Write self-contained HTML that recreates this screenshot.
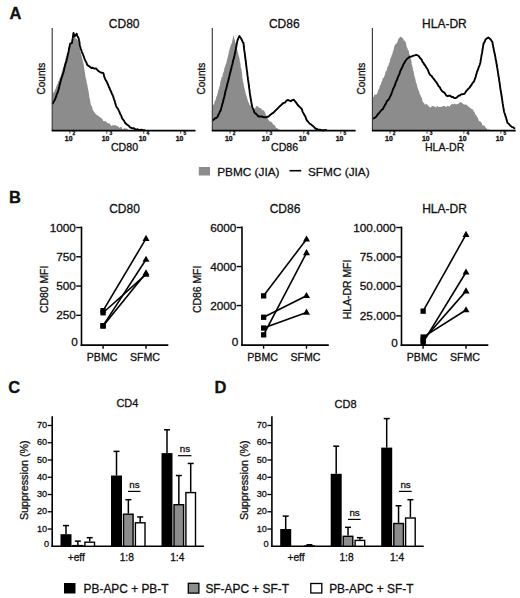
<!DOCTYPE html>
<html><head><meta charset="utf-8"><style>
html,body{margin:0;padding:0;background:#fff;}
svg{display:block;font-family:"Liberation Sans", sans-serif;}
text{stroke:#111;stroke-width:0.3px;}
</style></head><body>
<svg width="520" height="598" viewBox="0 0 520 598">
<rect width="520" height="598" fill="#fff"/>
<text x="9.6" y="18.8" font-size="16.5" text-anchor="start" font-weight="bold" fill="#111">A</text>
<text x="9.0" y="203" font-size="16.5" text-anchor="start" font-weight="bold" fill="#111">B</text>
<text x="8.2" y="393" font-size="16.5" text-anchor="start" font-weight="bold" fill="#111">C</text>
<text x="214.6" y="392.8" font-size="16.5" text-anchor="start" font-weight="bold" fill="#111">D</text>
<polygon points="52.2,130.7 52.5,94.9 53.1,93.4 53.7,91.9 54.3,91.9 54.9,89.5 55.5,89.4 55.9,88.0 56.3,86.3 56.7,86.2 57.1,84.2 57.6,84.0 58.0,82.2 58.4,81.2 58.8,81.0 59.2,80.8 59.5,78.3 59.9,77.5 60.2,77.4 60.5,77.1 60.9,75.3 61.2,73.9 61.6,74.1 61.9,71.1 62.2,71.9 62.6,69.6 62.9,68.3 63.2,67.2 63.5,66.5 63.8,66.6 64.1,64.1 64.4,63.9 64.7,63.0 65.0,61.4 65.3,60.7 65.6,58.5 65.9,57.5 66.2,56.7 66.5,56.7 66.8,55.1 67.1,53.8 67.4,53.4 67.7,52.1 68.1,50.7 68.4,50.7 68.7,49.5 69.0,47.5 69.3,47.2 70.0,45.9 70.7,45.6 71.3,44.1 72.0,42.0 72.5,42.5 73.0,39.5 73.4,39.0 73.9,38.7 74.4,36.2 75.6,38.3 76.7,38.7 78.5,41.9 78.7,43.1 78.9,43.7 79.1,45.4 79.3,45.2 79.5,47.0 79.7,47.8 79.9,48.8 80.1,49.6 80.3,51.4 80.6,52.7 80.8,52.7 81.1,54.1 81.3,53.8 81.6,56.2 81.8,57.1 82.1,58.8 82.3,59.5 82.6,59.3 82.8,60.5 83.1,62.2 83.3,61.7 83.4,63.7 83.6,64.1 83.8,65.0 83.9,65.8 84.1,68.4 84.2,68.0 84.4,69.2 84.6,70.6 84.7,72.6 84.9,71.9 85.1,73.7 85.3,75.0 85.5,76.8 85.7,77.7 85.9,78.9 86.1,78.6 86.3,80.0 86.5,80.9 86.7,83.1 86.9,84.3 87.1,83.6 87.3,84.7 87.5,85.9 87.7,86.9 87.9,88.5 88.1,89.8 88.3,90.1 88.5,90.6 88.7,92.6 88.9,93.5 89.1,95.0 89.2,96.9 89.4,97.4 89.6,98.0 89.8,99.3 90.0,100.5 90.2,100.2 90.4,103.1 90.7,103.8 91.0,105.1 91.3,105.9 91.6,106.1 92.0,107.1 92.3,107.5 92.6,109.7 92.9,109.4 93.2,110.4 94.1,111.9 95.1,113.0 96.0,114.5 96.9,115.0 97.9,115.5 99.0,116.4 100.0,116.9 101.1,118.3 102.1,118.4 103.2,121.0 104.3,121.3 105.4,121.0 106.4,122.1 107.5,123.1 108.6,123.5 109.6,123.3 110.7,125.2 111.8,125.9 112.9,125.1 113.9,125.5 115.0,125.0 116.1,125.4 117.2,126.3 118.3,126.5 119.3,128.1 120.4,126.9 121.5,127.0 122.6,129.4 123.6,128.7 124.7,128.0 125.8,129.1 126.8,128.2 127.9,129.5 128.9,130.7 129.9,130.6 130.9,130.5 132.0,129.7 133.0,130.5 133.0,130.7" fill="#8c8c8c"/>
<polyline points="52.5,104.0 53.5,102.1 54.6,100.1 55.1,99.4 55.5,97.9 56.0,96.9 56.5,95.2 56.9,93.8 57.4,93.1 57.8,92.0 58.3,90.7 58.6,89.3 59.0,88.1 59.3,86.7 59.6,84.9 60.0,83.9 60.3,82.5 60.7,80.9 61.0,79.6 61.4,78.6 61.7,77.3 62.1,76.5 62.5,75.4 62.9,73.6 63.2,72.9 63.6,71.6 64.0,70.3 64.3,68.4 64.7,67.0 65.0,65.8 65.3,64.6 65.6,63.3 65.9,62.5 66.3,61.6 66.6,60.3 66.9,58.7 67.2,57.7 67.5,56.6 67.8,54.6 68.0,53.9 68.3,52.8 68.6,51.4 68.8,50.1 69.1,48.5 69.4,46.9 69.7,46.3 69.9,44.5 70.2,43.7 72.0,43.0 72.2,41.1 72.4,39.8 72.6,39.0 72.9,37.5 73.1,35.6 73.3,34.2 73.5,33.0 74.2,35.1 74.8,36.3 76.7,33.8 77.3,35.8 77.9,37.1 78.5,38.1 78.8,39.1 79.0,40.5 79.3,41.4 79.5,42.6 79.8,44.9 80.0,45.8 80.3,47.0 80.8,48.8 81.2,49.7 81.7,51.6 82.2,52.9 82.7,53.5 83.1,54.8 83.6,56.0 84.0,57.2 84.5,58.8 84.9,59.7 85.6,61.2 86.3,62.3 87.0,64.4 87.7,65.3 88.9,66.1 90.2,67.0 91.4,68.0 92.9,67.8 94.5,68.6 96.0,68.5 97.3,69.9 98.7,71.2 100.0,72.0 101.6,72.8 103.2,72.9 103.7,74.1 104.1,76.3 104.5,77.1 105.0,78.8 106.0,80.6 106.9,82.1 107.4,83.1 107.9,84.5 108.5,85.8 109.0,87.3 109.5,87.9 110.0,89.6 110.6,90.6 111.3,92.0 111.9,93.9 112.6,95.0 113.2,96.5 113.6,97.9 114.0,99.3 114.4,100.1 114.8,101.5 115.1,102.7 115.5,103.9 115.9,105.3 116.3,106.4 117.1,107.7 118.0,108.9 118.8,110.6 119.3,111.6 119.9,113.1 120.4,114.4 120.9,115.0 121.5,116.5 122.0,118.1 122.7,119.3 123.5,119.9 124.2,121.1 125.0,122.7 125.7,123.6 127.2,124.8 128.6,125.6 130.1,127.3 131.4,127.8 132.6,128.4 133.9,128.1 135.1,129.2 136.4,129.6 137.7,129.2 138.9,130.0 140.2,130.2 141.4,129.6 142.7,130.2 143.9,130.1 145.2,130.3" fill="none" stroke="#000" stroke-width="1.9" stroke-linejoin="round"/>
<line x1="52.2" y1="28" x2="52.2" y2="130.7" stroke="#333" stroke-width="1.1"/>
<line x1="51.7" y1="130.7" x2="195.5" y2="130.7" stroke="#000" stroke-width="1.8"/>
<line x1="69.9" y1="130.7" x2="69.9" y2="133.7" stroke="#222" stroke-width="0.8"/>
<text x="68.7" y="140.9" font-size="6.9" text-anchor="middle" font-weight="bold" fill="#111">10</text>
<text x="72.60000000000001" y="135.4" font-size="4.8" text-anchor="start" font-weight="bold" fill="#111">2</text>
<line x1="106.80000000000001" y1="130.7" x2="106.80000000000001" y2="133.7" stroke="#222" stroke-width="0.8"/>
<text x="105.60000000000001" y="140.9" font-size="6.9" text-anchor="middle" font-weight="bold" fill="#111">10</text>
<text x="109.50000000000001" y="135.4" font-size="4.8" text-anchor="start" font-weight="bold" fill="#111">3</text>
<line x1="143.7" y1="130.7" x2="143.7" y2="133.7" stroke="#222" stroke-width="0.8"/>
<text x="142.5" y="140.9" font-size="6.9" text-anchor="middle" font-weight="bold" fill="#111">10</text>
<text x="146.39999999999998" y="135.4" font-size="4.8" text-anchor="start" font-weight="bold" fill="#111">4</text>
<line x1="180.7" y1="130.7" x2="180.7" y2="133.7" stroke="#222" stroke-width="0.8"/>
<text x="179.5" y="140.9" font-size="6.9" text-anchor="middle" font-weight="bold" fill="#111">10</text>
<text x="183.39999999999998" y="135.4" font-size="4.8" text-anchor="start" font-weight="bold" fill="#111">5</text>
<text x="124.2" y="27.5" font-size="12" text-anchor="middle" fill="#111">CD80</text>
<text x="124.5" y="151.2" font-size="10.6" text-anchor="middle" fill="#111">CD80</text>
<text x="44.6" y="78.6" font-size="10" text-anchor="middle" transform="rotate(-90 44.6 78.6)" fill="#111">Counts</text>
<polygon points="212.3,130.7 212.5,105.9 213.1,104.8 213.7,104.8 214.3,103.3 214.9,100.8 215.5,100.2 215.8,99.4 216.1,98.0 216.4,96.7 216.7,95.9 217.1,95.8 217.4,93.2 217.7,93.4 218.0,92.1 218.3,90.1 218.5,89.8 218.8,89.5 219.0,88.2 219.3,86.2 219.5,87.2 219.8,85.8 220.0,85.2 220.3,82.3 220.5,81.6 220.8,80.1 221.0,80.7 221.3,78.6 221.6,77.3 221.9,76.9 222.2,77.0 222.6,75.7 222.9,73.5 223.2,72.3 223.5,72.9 223.8,71.2 224.1,70.4 224.4,68.1 224.7,67.0 225.0,67.3 225.3,65.7 225.6,63.9 225.9,64.8 226.2,63.1 226.5,62.5 226.8,59.9 227.0,60.6 227.3,57.8 227.5,58.6 227.8,56.7 228.0,55.4 228.3,54.9 228.5,54.7 228.8,52.2 229.0,50.9 229.3,50.8 229.6,49.1 230.0,47.8 230.3,46.8 230.7,45.5 231.0,44.8 231.4,44.0 231.7,43.0 232.0,42.9 232.2,40.8 232.5,40.2 232.7,38.5 233.0,37.8 233.2,36.0 233.5,35.5 233.8,36.0 234.1,38.6 234.4,39.3 234.8,39.5 235.1,41.2 235.4,43.3 235.7,42.5 236.0,45.1 236.2,45.3 236.5,46.4 236.7,48.1 237.0,48.2 237.2,49.4 237.5,50.8 237.7,52.5 238.0,52.1 238.2,54.1 238.5,54.9 238.7,55.7 238.9,56.3 239.1,57.2 239.3,57.6 239.5,58.8 239.7,59.8 239.9,62.3 240.1,62.3 240.3,63.1 240.5,64.0 240.7,66.7 240.9,67.8 241.1,68.4 241.3,68.6 241.5,69.6 241.6,70.8 241.8,72.2 241.9,72.6 242.1,74.4 242.2,75.0 242.3,77.6 242.5,78.7 242.7,78.9 242.8,79.3 242.9,81.9 243.1,81.6 243.3,82.8 243.6,83.1 243.8,85.0 244.0,86.2 244.2,87.4 244.4,87.8 244.7,89.5 244.9,89.5 245.1,91.2 245.4,91.8 245.6,93.6 245.8,93.9 246.2,94.9 246.6,96.6 247.0,97.4 247.4,99.3 247.8,100.2 248.2,101.7 248.6,102.5 249.2,103.8 249.7,105.2 250.3,105.3 250.8,106.2 251.4,108.8 252.8,107.4 254.1,109.1 255.3,108.0 256.6,105.8 257.8,106.6 259.0,107.7 260.3,108.0 261.5,109.1 262.7,110.5 263.8,110.3 265.0,112.4 265.5,113.4 266.1,115.2 266.6,116.2 267.1,117.3 267.6,117.8 268.1,119.5 268.7,120.1 269.2,121.2 270.4,121.4 271.5,122.1 272.6,123.4 273.8,125.1 275.0,125.4 276.1,127.9 277.3,128.2 278.5,129.2 279.7,129.7 280.8,130.4 282.0,130.5 282.0,130.7" fill="#8c8c8c"/>
<polyline points="212.5,120.6 213.7,119.7 214.9,118.3 216.2,118.1 217.4,117.1 218.0,115.7 218.6,114.5 219.2,113.4 219.8,111.6 220.4,111.1 221.0,109.4 221.3,107.9 221.6,106.9 221.9,106.2 222.2,104.4 222.5,103.7 222.8,102.7 223.2,101.0 223.5,99.7 223.8,98.6 224.1,97.5 224.4,96.4 224.7,95.0 225.0,93.8 225.3,92.0 225.6,90.8 225.9,89.7 226.2,89.0 226.6,87.3 226.9,86.3 227.2,84.5 227.5,83.4 227.8,82.3 228.1,81.5 228.4,80.3 228.7,79.1 229.0,77.4 229.3,76.4 229.6,75.2 229.9,73.9 230.2,72.4 230.5,71.9 230.8,70.0 231.1,69.6 231.4,68.3 231.7,66.1 232.0,65.4 232.3,64.5 232.6,63.4 232.9,61.7 233.2,60.3 233.6,59.0 233.9,58.5 234.2,56.6 234.5,55.7 234.8,54.0 235.0,53.1 235.3,52.3 235.5,50.2 235.8,49.6 236.0,48.0 236.2,47.0 236.5,45.6 236.7,43.8 237.0,43.2 237.2,41.5 237.8,39.6 238.3,38.3 238.8,37.4 239.4,36.0 240.1,37.0 240.9,38.1 241.6,39.5 242.2,40.7 242.9,42.5 243.5,42.9 243.7,44.9 243.8,46.2 243.9,46.7 244.1,48.7 244.2,49.7 244.4,51.2 244.6,51.8 244.7,53.1 244.9,54.3 245.0,56.1 245.2,57.0 245.3,58.0 245.5,59.3 245.6,60.3 245.8,61.3 245.9,62.6 246.1,64.6 246.3,65.2 246.4,67.1 246.6,67.7 246.7,68.9 246.9,70.4 247.1,71.3 247.2,72.7 247.4,74.5 247.5,75.7 247.7,76.8 247.9,77.9 248.0,79.4 248.2,80.6 248.3,81.5 248.5,82.9 248.7,83.4 248.8,85.3 249.0,86.3 249.1,87.8 249.3,88.9 249.5,89.8 249.6,90.8 249.8,92.9 249.9,93.3 250.1,94.9 250.3,96.0 250.5,97.3 250.8,99.0 251.0,100.5 251.2,101.1 251.4,102.7 251.6,103.7 251.9,105.2 252.1,106.3 252.3,107.4 253.0,108.7 253.7,110.2 254.3,112.2 255.0,113.2 256.2,113.9 257.5,115.5 258.7,116.5 260.2,116.4 261.6,116.5 263.1,117.0 264.6,117.3 265.9,117.3 267.2,116.8 268.5,116.6 270.0,115.1 271.5,113.9 272.8,113.2 274.1,112.0 275.4,110.7 276.7,109.4 277.9,108.2 279.2,106.8 280.7,105.5 282.3,103.9 283.8,102.9 285.1,102.5 286.4,100.7 287.7,100.0 289.2,100.5 290.8,101.2 292.3,100.1 293.8,99.8 294.8,101.0 295.9,102.4 296.9,103.7 298.2,105.6 299.5,106.7 300.8,108.1 301.4,108.4 302.0,109.7 302.6,111.6 303.2,113.0 303.8,113.8 304.4,115.1 305.0,115.8 305.7,117.4 306.3,119.2 306.9,120.3 308.2,121.9 309.5,123.5 310.8,124.3 312.3,125.5 313.9,126.9 315.4,128.5 316.6,129.0 317.8,129.5 319.1,129.6 320.3,129.8 321.5,130.2 322.9,130.1 324.2,130.2 325.5,129.9 326.9,130.5" fill="none" stroke="#000" stroke-width="1.9" stroke-linejoin="round"/>
<line x1="212.3" y1="28" x2="212.3" y2="130.7" stroke="#333" stroke-width="1.1"/>
<line x1="211.8" y1="130.7" x2="355.6" y2="130.7" stroke="#000" stroke-width="1.8"/>
<line x1="230.0" y1="130.7" x2="230.0" y2="133.7" stroke="#222" stroke-width="0.8"/>
<text x="228.8" y="140.9" font-size="6.9" text-anchor="middle" font-weight="bold" fill="#111">10</text>
<text x="232.7" y="135.4" font-size="4.8" text-anchor="start" font-weight="bold" fill="#111">2</text>
<line x1="266.90000000000003" y1="130.7" x2="266.90000000000003" y2="133.7" stroke="#222" stroke-width="0.8"/>
<text x="265.70000000000005" y="140.9" font-size="6.9" text-anchor="middle" font-weight="bold" fill="#111">10</text>
<text x="269.6" y="135.4" font-size="4.8" text-anchor="start" font-weight="bold" fill="#111">3</text>
<line x1="303.8" y1="130.7" x2="303.8" y2="133.7" stroke="#222" stroke-width="0.8"/>
<text x="302.6" y="140.9" font-size="6.9" text-anchor="middle" font-weight="bold" fill="#111">10</text>
<text x="306.5" y="135.4" font-size="4.8" text-anchor="start" font-weight="bold" fill="#111">4</text>
<line x1="340.8" y1="130.7" x2="340.8" y2="133.7" stroke="#222" stroke-width="0.8"/>
<text x="339.6" y="140.9" font-size="6.9" text-anchor="middle" font-weight="bold" fill="#111">10</text>
<text x="343.5" y="135.4" font-size="4.8" text-anchor="start" font-weight="bold" fill="#111">5</text>
<text x="284.3" y="27.5" font-size="12" text-anchor="middle" fill="#111">CD86</text>
<text x="284.6" y="151.2" font-size="10.6" text-anchor="middle" fill="#111">CD86</text>
<text x="204.70000000000002" y="78.6" font-size="10" text-anchor="middle" transform="rotate(-90 204.70000000000002 78.6)" fill="#111">Counts</text>
<polygon points="372.4,130.7 372.5,97.6 373.6,96.9 374.6,94.3 376.0,94.9 377.4,93.3 377.8,91.5 378.2,90.1 378.6,89.4 379.0,89.2 379.4,88.3 379.8,86.0 380.2,84.9 380.6,84.9 381.0,84.0 381.4,82.5 381.8,81.1 382.2,81.0 382.6,78.6 383.1,78.3 383.5,77.6 383.9,77.7 384.3,75.9 384.7,75.4 385.1,73.5 385.5,72.0 385.9,71.0 386.3,71.5 386.8,69.9 387.2,68.0 387.6,66.4 388.0,66.4 388.4,65.8 388.7,64.2 389.1,62.9 389.4,62.8 389.7,62.3 390.1,59.8 390.4,58.4 390.8,58.0 391.1,57.2 391.4,56.8 391.8,54.7 392.1,55.1 392.4,53.9 392.7,52.4 393.0,50.7 393.3,51.3 393.6,48.9 393.9,49.0 394.2,46.7 394.5,45.6 394.8,45.8 395.7,43.5 396.7,43.7 397.6,41.5 398.0,39.8 398.5,38.9 398.9,38.3 399.4,37.8 399.8,37.4 400.9,36.4 402.0,37.8 403.1,38.2 403.8,41.0 404.5,40.3 405.1,41.3 405.8,42.4 406.2,44.2 406.6,46.4 407.0,47.4 407.4,48.1 407.8,49.7 408.2,50.6 408.6,50.3 408.9,51.0 409.1,53.7 409.4,54.3 409.6,53.7 409.9,56.1 410.1,56.5 410.4,57.5 410.6,58.4 410.9,59.1 411.1,59.7 411.4,61.3 411.6,62.5 411.8,64.9 412.1,64.2 412.3,67.1 412.5,66.5 412.8,67.9 413.0,70.0 413.2,71.0 413.4,71.3 413.7,71.5 413.9,73.5 414.1,74.3 414.4,76.5 414.6,75.9 414.9,77.3 415.1,79.5 415.4,78.6 415.6,80.5 415.9,82.3 416.1,83.3 416.4,82.7 416.6,83.7 416.9,84.7 417.3,87.7 417.7,87.3 418.1,89.4 418.4,90.7 418.8,90.6 419.2,91.5 419.6,94.0 420.0,94.3 420.4,94.6 420.8,96.6 421.2,96.8 421.6,97.8 422.0,98.3 422.4,101.0 423.3,102.5 424.1,103.1 425.0,105.0 426.2,103.7 427.3,104.8 428.5,106.0 429.6,107.2 430.8,107.4 431.9,106.3 433.1,106.1 434.2,106.6 435.2,106.7 436.2,107.5 437.2,105.8 438.3,107.1 439.3,106.8 440.3,106.9 441.3,106.7 442.3,106.4 443.3,105.9 444.3,106.0 445.4,106.2 446.4,107.2 447.4,105.8 448.4,106.1 449.5,106.8 450.5,105.2 451.6,104.3 452.7,103.7 453.8,104.4 455.0,103.5 456.1,104.5 457.3,103.9 458.4,103.7 459.5,102.4 460.6,102.2 461.8,102.6 462.9,103.7 464.0,104.5 465.1,104.4 466.1,104.5 467.2,105.4 468.3,106.4 469.4,107.2 470.5,108.1 471.5,109.0 472.6,109.4 473.1,109.2 473.7,111.7 474.2,111.5 474.8,113.1 475.3,113.7 475.8,115.5 476.4,115.3 476.9,116.4 477.5,117.4 478.0,118.2 478.9,120.9 479.8,121.3 480.8,121.8 481.7,123.0 482.6,125.4 483.5,125.4 484.6,125.7 485.7,127.8 486.8,128.4 487.9,130.0 489.0,128.9 490.0,130.1 491.0,130.5 491.0,130.7" fill="#8c8c8c"/>
<polyline points="372.5,118.8 374.0,118.2 375.5,117.2 376.7,116.1 378.0,114.0 379.2,113.0 380.4,111.3 381.7,109.8 382.9,109.1 383.6,107.4 384.3,106.5 385.1,104.6 385.8,103.8 386.5,102.1 387.4,100.6 388.4,99.7 389.3,98.5 390.2,96.3 390.7,95.5 391.3,94.2 391.8,92.5 392.3,91.3 392.8,89.8 393.4,88.5 393.9,87.3 394.4,86.3 395.0,85.0 395.5,83.3 396.0,81.8 396.5,80.8 397.1,79.8 397.6,78.0 398.1,76.8 398.7,75.4 399.2,74.7 399.7,73.1 400.2,71.3 400.8,70.0 401.3,69.0 401.9,67.9 402.5,66.8 403.1,65.0 403.7,63.9 404.3,63.2 404.9,61.7 406.1,60.0 407.4,58.5 408.6,57.7 409.8,56.7 411.1,56.7 412.3,56.2 413.5,55.6 414.8,55.4 416.0,54.9 417.4,55.2 418.7,56.0 420.0,58.0 420.9,58.8 421.7,59.9 422.6,62.0 423.4,62.8 424.3,64.5 425.2,65.5 426.2,67.4 427.1,68.5 427.6,69.4 428.1,70.5 428.7,72.2 429.2,73.5 430.4,75.2 431.6,75.9 432.8,77.8 433.9,79.0 434.9,80.6 435.9,81.6 437.0,83.2 437.9,84.7 438.7,86.4 439.6,86.8 440.4,88.5 441.3,90.1 442.6,91.6 443.8,92.2 445.1,93.5 446.3,95.6 447.7,96.0 449.1,95.8 450.5,95.8 451.8,97.1 453.0,97.0 454.2,98.0 455.5,98.1 456.9,97.4 458.4,95.8 459.8,95.5 461.0,94.4 462.2,94.2 463.5,94.1 464.7,93.6 465.9,91.5 467.1,90.2 468.3,88.9 469.5,87.6 470.6,86.1 471.8,84.4 472.6,83.1 473.4,82.2 474.2,80.9 475.0,78.6 475.4,77.7 475.8,76.5 476.2,74.4 476.6,73.8 477.0,71.6 477.5,70.9 477.9,69.6 478.4,68.5 478.8,66.9 479.3,65.8 479.7,64.8 480.2,63.4 480.4,62.4 480.6,61.0 480.8,59.8 481.0,58.1 481.2,57.5 481.4,56.2 481.6,54.7 481.9,54.0 482.1,52.8 482.3,51.3 482.5,49.8 482.7,48.8 482.9,47.3 483.1,46.1 483.3,45.1 483.5,43.6 484.1,42.7 484.8,41.5 485.4,39.8 486.0,39.1 488.3,37.4 490.5,39.2 491.4,40.6 492.2,41.7 492.5,42.5 492.7,44.3 493.0,45.4 493.3,47.3 493.5,47.7 493.8,49.7 494.1,51.1 494.3,52.1 494.6,53.5 494.9,54.1 495.1,56.2 495.4,57.0 495.6,58.8 495.8,60.0 496.1,60.6 496.3,62.5 496.5,63.9 496.7,64.4 496.9,66.0 497.2,67.7 497.4,68.4 497.6,70.4 497.8,71.0 498.0,72.7 498.2,73.3 498.3,74.8 498.5,76.4 498.7,76.9 498.9,78.2 499.1,79.7 499.2,80.7 499.4,81.6 499.6,82.9 499.8,84.1 500.0,86.1 500.2,87.1 500.3,88.5 500.5,89.0 500.7,90.8 500.9,91.3 501.1,93.0 501.3,94.3 501.5,95.2 501.7,97.0 501.9,97.9 502.1,99.1 502.3,100.7 502.4,101.1 502.6,103.2 502.8,104.1 503.0,105.1 503.2,106.7 503.4,107.4 503.6,109.3 503.8,110.2 504.0,111.2 504.4,112.8 504.8,113.7 505.1,114.6 505.5,116.4 505.9,116.9 506.3,118.9 506.6,119.5 507.0,121.1 507.4,122.7 508.8,123.9 510.3,125.6 511.7,126.8 513.4,127.4 515.0,128.7" fill="none" stroke="#000" stroke-width="1.9" stroke-linejoin="round"/>
<line x1="372.4" y1="28" x2="372.4" y2="130.7" stroke="#333" stroke-width="1.1"/>
<line x1="371.9" y1="130.7" x2="515.7" y2="130.7" stroke="#000" stroke-width="1.8"/>
<line x1="390.09999999999997" y1="130.7" x2="390.09999999999997" y2="133.7" stroke="#222" stroke-width="0.8"/>
<text x="388.9" y="140.9" font-size="6.9" text-anchor="middle" font-weight="bold" fill="#111">10</text>
<text x="392.79999999999995" y="135.4" font-size="4.8" text-anchor="start" font-weight="bold" fill="#111">2</text>
<line x1="427.0" y1="130.7" x2="427.0" y2="133.7" stroke="#222" stroke-width="0.8"/>
<text x="425.8" y="140.9" font-size="6.9" text-anchor="middle" font-weight="bold" fill="#111">10</text>
<text x="429.7" y="135.4" font-size="4.8" text-anchor="start" font-weight="bold" fill="#111">3</text>
<line x1="463.9" y1="130.7" x2="463.9" y2="133.7" stroke="#222" stroke-width="0.8"/>
<text x="462.7" y="140.9" font-size="6.9" text-anchor="middle" font-weight="bold" fill="#111">10</text>
<text x="466.59999999999997" y="135.4" font-size="4.8" text-anchor="start" font-weight="bold" fill="#111">4</text>
<line x1="500.9" y1="130.7" x2="500.9" y2="133.7" stroke="#222" stroke-width="0.8"/>
<text x="499.7" y="140.9" font-size="6.9" text-anchor="middle" font-weight="bold" fill="#111">10</text>
<text x="503.59999999999997" y="135.4" font-size="4.8" text-anchor="start" font-weight="bold" fill="#111">5</text>
<text x="444.4" y="27.5" font-size="12" text-anchor="middle" fill="#111">HLA-DR</text>
<text x="444.7" y="151.2" font-size="10.6" text-anchor="middle" fill="#111">HLA-DR</text>
<text x="364.79999999999995" y="78.6" font-size="10" text-anchor="middle" transform="rotate(-90 364.79999999999995 78.6)" fill="#111">Counts</text>
<rect x="198.8" y="167" width="11.2" height="8.5" fill="#8c8c8c"/>
<text x="217.2" y="175.5" font-size="11.8" text-anchor="start" fill="#111">PBMC (JIA)</text>
<line x1="289.5" y1="170.7" x2="301.2" y2="170.7" stroke="#000" stroke-width="1.6"/>
<text x="308" y="175.5" font-size="11.8" text-anchor="start" fill="#111">SFMC (JIA)</text>
<line x1="81.5" y1="226.5" x2="81.5" y2="345.90000000000003" stroke="#000" stroke-width="1.6"/>
<line x1="80.7" y1="345.1" x2="168.3" y2="345.1" stroke="#000" stroke-width="1.6"/>
<text x="77.9" y="346.1" font-size="11.8" text-anchor="end" fill="#111">0</text>
<line x1="76.2" y1="315.32500000000005" x2="81.5" y2="315.32500000000005" stroke="#000" stroke-width="1.4"/>
<text x="75.9" y="319.32500000000005" font-size="11.8" text-anchor="end" fill="#111">250</text>
<line x1="76.2" y1="286.05" x2="81.5" y2="286.05" stroke="#000" stroke-width="1.4"/>
<text x="75.9" y="290.05" font-size="11.8" text-anchor="end" fill="#111">500</text>
<line x1="76.2" y1="256.775" x2="81.5" y2="256.775" stroke="#000" stroke-width="1.4"/>
<text x="75.9" y="260.775" font-size="11.8" text-anchor="end" fill="#111">750</text>
<line x1="76.2" y1="227.5" x2="81.5" y2="227.5" stroke="#000" stroke-width="1.4"/>
<text x="75.9" y="231.5" font-size="11.8" text-anchor="end" fill="#111">1000</text>
<line x1="103.1" y1="345.1" x2="103.1" y2="348.70000000000005" stroke="#000" stroke-width="1.4"/>
<text x="102.1" y="360.6" font-size="10.6" text-anchor="middle" fill="#111">PBMC</text>
<line x1="146.0" y1="345.1" x2="146.0" y2="348.70000000000005" stroke="#000" stroke-width="1.4"/>
<text x="145.0" y="360.6" font-size="10.6" text-anchor="middle" fill="#111">SFMC</text>
<text x="124.5" y="212.7" font-size="12" text-anchor="middle" fill="#111">CD80</text>
<text x="48.5" y="289.4" font-size="10.4" text-anchor="middle" transform="rotate(-90 48.5 289.4)" fill="#111">CD80 MFI</text>
<line x1="103.1" y1="310.641" x2="146.0" y2="238.6245" stroke="#000" stroke-width="1.6"/>
<line x1="103.1" y1="312.7488" x2="146.0" y2="274.34000000000003" stroke="#000" stroke-width="1.6"/>
<line x1="103.1" y1="325.62980000000005" x2="146.0" y2="259.4683" stroke="#000" stroke-width="1.6"/>
<line x1="103.1" y1="326.0982" x2="146.0" y2="272.9348" stroke="#000" stroke-width="1.6"/>
<rect x="100.4" y="308.0" width="5.3" height="5.3" fill="#000"/>
<polygon points="146.0,234.8 142.5,240.9 149.5,240.9" fill="#000"/>
<rect x="100.4" y="310.1" width="5.3" height="5.3" fill="#000"/>
<polygon points="146.0,270.6 142.5,276.7 149.5,276.7" fill="#000"/>
<rect x="100.4" y="323.0" width="5.3" height="5.3" fill="#000"/>
<polygon points="146.0,255.7 142.5,261.8 149.5,261.8" fill="#000"/>
<rect x="100.4" y="323.4" width="5.3" height="5.3" fill="#000"/>
<polygon points="146.0,269.2 142.5,275.2 149.5,275.2" fill="#000"/>
<line x1="242" y1="226.5" x2="242" y2="345.90000000000003" stroke="#000" stroke-width="1.6"/>
<line x1="241.2" y1="345.1" x2="328.8" y2="345.1" stroke="#000" stroke-width="1.6"/>
<text x="238.4" y="346.1" font-size="11.8" text-anchor="end" fill="#111">0</text>
<line x1="236.7" y1="305.56666666666666" x2="242" y2="305.56666666666666" stroke="#000" stroke-width="1.4"/>
<text x="236.4" y="309.56666666666666" font-size="11.8" text-anchor="end" fill="#111">2000</text>
<line x1="236.7" y1="266.5333333333333" x2="242" y2="266.5333333333333" stroke="#000" stroke-width="1.4"/>
<text x="236.4" y="270.5333333333333" font-size="11.8" text-anchor="end" fill="#111">4000</text>
<line x1="236.7" y1="227.5" x2="242" y2="227.5" stroke="#000" stroke-width="1.4"/>
<text x="236.4" y="231.5" font-size="11.8" text-anchor="end" fill="#111">6000</text>
<line x1="263.6" y1="345.1" x2="263.6" y2="348.70000000000005" stroke="#000" stroke-width="1.4"/>
<text x="262.6" y="360.6" font-size="10.6" text-anchor="middle" fill="#111">PBMC</text>
<line x1="306.5" y1="345.1" x2="306.5" y2="348.70000000000005" stroke="#000" stroke-width="1.4"/>
<text x="305.5" y="360.6" font-size="10.6" text-anchor="middle" fill="#111">SFMC</text>
<text x="285" y="212.7" font-size="12" text-anchor="middle" fill="#111">CD86</text>
<text x="200.8" y="289.4" font-size="10.4" text-anchor="middle" transform="rotate(-90 200.8 289.4)" fill="#111">CD86 MFI</text>
<line x1="263.6" y1="295.80833333333334" x2="306.5" y2="239.20999999999998" stroke="#000" stroke-width="1.6"/>
<line x1="263.6" y1="334.8416666666667" x2="306.5" y2="252.87166666666667" stroke="#000" stroke-width="1.6"/>
<line x1="263.6" y1="317.2766666666667" x2="306.5" y2="295.80833333333334" stroke="#000" stroke-width="1.6"/>
<line x1="263.6" y1="328.0108333333334" x2="306.5" y2="312.39750000000004" stroke="#000" stroke-width="1.6"/>
<rect x="261.0" y="293.2" width="5.3" height="5.3" fill="#000"/>
<polygon points="306.5,235.4 303.0,241.5 310.0,241.5" fill="#000"/>
<rect x="261.0" y="332.2" width="5.3" height="5.3" fill="#000"/>
<polygon points="306.5,249.1 303.0,255.2 310.0,255.2" fill="#000"/>
<rect x="261.0" y="314.6" width="5.3" height="5.3" fill="#000"/>
<polygon points="306.5,292.0 303.0,298.1 310.0,298.1" fill="#000"/>
<rect x="261.0" y="325.4" width="5.3" height="5.3" fill="#000"/>
<polygon points="306.5,308.6 303.0,314.7 310.0,314.7" fill="#000"/>
<line x1="401.5" y1="226.5" x2="401.5" y2="345.90000000000003" stroke="#000" stroke-width="1.6"/>
<line x1="400.7" y1="345.1" x2="488.3" y2="345.1" stroke="#000" stroke-width="1.6"/>
<text x="397.9" y="346.8" font-size="11.8" text-anchor="end" fill="#111">0</text>
<line x1="396.2" y1="315.85" x2="401.5" y2="315.85" stroke="#000" stroke-width="1.4"/>
<text x="395.9" y="319.85" font-size="11.8" text-anchor="end" fill="#111">25.000</text>
<line x1="396.2" y1="286.40000000000003" x2="401.5" y2="286.40000000000003" stroke="#000" stroke-width="1.4"/>
<text x="395.9" y="290.40000000000003" font-size="11.8" text-anchor="end" fill="#111">50.000</text>
<line x1="396.2" y1="256.95000000000005" x2="401.5" y2="256.95000000000005" stroke="#000" stroke-width="1.4"/>
<text x="395.9" y="260.95000000000005" font-size="11.8" text-anchor="end" fill="#111">75.000</text>
<line x1="396.2" y1="227.5" x2="401.5" y2="227.5" stroke="#000" stroke-width="1.4"/>
<text x="395.9" y="231.5" font-size="11.8" text-anchor="end" fill="#111">100.000</text>
<line x1="423.1" y1="345.1" x2="423.1" y2="348.70000000000005" stroke="#000" stroke-width="1.4"/>
<text x="422.1" y="360.6" font-size="10.6" text-anchor="middle" fill="#111">PBMC</text>
<line x1="466.0" y1="345.1" x2="466.0" y2="348.70000000000005" stroke="#000" stroke-width="1.4"/>
<text x="465.0" y="360.6" font-size="10.6" text-anchor="middle" fill="#111">SFMC</text>
<text x="444.5" y="212.7" font-size="12" text-anchor="middle" fill="#111">HLA-DR</text>
<text x="351.1" y="289.4" font-size="10.4" text-anchor="middle" transform="rotate(-90 351.1 289.4)" fill="#111">HLA-DR MFI</text>
<line x1="423.1" y1="311.13800000000003" x2="466.0" y2="234.568" stroke="#000" stroke-width="1.6"/>
<line x1="423.1" y1="342.355" x2="466.0" y2="272.264" stroke="#000" stroke-width="1.6"/>
<line x1="423.1" y1="339.999" x2="466.0" y2="291.112" stroke="#000" stroke-width="1.6"/>
<line x1="423.1" y1="337.05400000000003" x2="466.0" y2="309.96000000000004" stroke="#000" stroke-width="1.6"/>
<rect x="420.5" y="308.5" width="5.3" height="5.3" fill="#000"/>
<polygon points="466.0,230.8 462.5,236.9 469.5,236.9" fill="#000"/>
<rect x="420.5" y="339.7" width="5.3" height="5.3" fill="#000"/>
<polygon points="466.0,268.5 462.5,274.6 469.5,274.6" fill="#000"/>
<rect x="420.5" y="337.3" width="5.3" height="5.3" fill="#000"/>
<polygon points="466.0,287.3 462.5,293.4 469.5,293.4" fill="#000"/>
<rect x="420.5" y="334.4" width="5.3" height="5.3" fill="#000"/>
<polygon points="466.0,306.2 462.5,312.3 469.5,312.3" fill="#000"/>
<line x1="52.2" y1="416.2" x2="52.2" y2="547.0999999999999" stroke="#000" stroke-width="1.6"/>
<line x1="51.400000000000006" y1="546.3" x2="204.0" y2="546.3" stroke="#000" stroke-width="1.6"/>
<text x="49.0" y="546.5" font-size="9.2" text-anchor="end" fill="#111">0</text>
<line x1="47.7" y1="529.04" x2="52.2" y2="529.04" stroke="#000" stroke-width="1.3"/>
<text x="47.2" y="531.54" font-size="9.1" text-anchor="end" fill="#111">10</text>
<line x1="47.7" y1="511.78" x2="52.2" y2="511.78" stroke="#000" stroke-width="1.3"/>
<text x="47.2" y="514.28" font-size="9.1" text-anchor="end" fill="#111">20</text>
<line x1="47.7" y1="494.52" x2="52.2" y2="494.52" stroke="#000" stroke-width="1.3"/>
<text x="47.2" y="497.02" font-size="9.1" text-anchor="end" fill="#111">30</text>
<line x1="47.7" y1="477.26" x2="52.2" y2="477.26" stroke="#000" stroke-width="1.3"/>
<text x="47.2" y="479.76" font-size="9.1" text-anchor="end" fill="#111">40</text>
<line x1="47.7" y1="459.99999999999994" x2="52.2" y2="459.99999999999994" stroke="#000" stroke-width="1.3"/>
<text x="47.2" y="462.49999999999994" font-size="9.1" text-anchor="end" fill="#111">50</text>
<line x1="47.7" y1="442.73999999999995" x2="52.2" y2="442.73999999999995" stroke="#000" stroke-width="1.3"/>
<text x="47.2" y="445.23999999999995" font-size="9.1" text-anchor="end" fill="#111">60</text>
<line x1="47.7" y1="425.47999999999996" x2="52.2" y2="425.47999999999996" stroke="#000" stroke-width="1.3"/>
<text x="47.2" y="427.97999999999996" font-size="9.1" text-anchor="end" fill="#111">70</text>
<text x="27.900000000000002" y="480.2" font-size="10.8" text-anchor="middle" transform="rotate(-90 27.900000000000002 480.2)" fill="#111">Suppression (%)</text>
<text x="127.4" y="407.4" font-size="11" text-anchor="middle" fill="#111">CD4</text>
<line x1="66.0" y1="525.588" x2="66.0" y2="534.218" stroke="#000" stroke-width="1.5"/>
<line x1="63.0" y1="525.588" x2="69.0" y2="525.588" stroke="#000" stroke-width="1.5"/>
<rect x="60.5" y="534.2" width="11" height="12.1" fill="#000"/>
<line x1="77.85" y1="541.122" x2="77.85" y2="544.9191999999999" stroke="#000" stroke-width="1.5"/>
<line x1="74.85" y1="541.122" x2="80.85" y2="541.122" stroke="#000" stroke-width="1.5"/>
<rect x="73.0" y="545.6" width="9.6" height="0.7" fill="#8c8c8c" stroke="#000" stroke-width="1.4"/>
<line x1="89.7" y1="537.67" x2="89.7" y2="541.4671999999999" stroke="#000" stroke-width="1.5"/>
<line x1="86.7" y1="537.67" x2="92.7" y2="537.67" stroke="#000" stroke-width="1.5"/>
<rect x="84.9" y="542.2" width="9.6" height="4.1" fill="#fff" stroke="#000" stroke-width="1.4"/>
<text x="76.3" y="560.5" font-size="10.2" text-anchor="middle" fill="#111">+eff</text>
<line x1="116.5" y1="451.36999999999995" x2="116.5" y2="475.53399999999993" stroke="#000" stroke-width="1.5"/>
<line x1="113.5" y1="451.36999999999995" x2="119.5" y2="451.36999999999995" stroke="#000" stroke-width="1.5"/>
<rect x="111.0" y="475.5" width="11" height="70.8" fill="#000"/>
<line x1="128.35" y1="499.698" x2="128.35" y2="513.506" stroke="#000" stroke-width="1.5"/>
<line x1="125.35" y1="499.698" x2="131.35" y2="499.698" stroke="#000" stroke-width="1.5"/>
<rect x="123.5" y="514.2" width="9.6" height="32.1" fill="#8c8c8c" stroke="#000" stroke-width="1.4"/>
<line x1="140.2" y1="516.958" x2="140.2" y2="522.136" stroke="#000" stroke-width="1.5"/>
<line x1="137.2" y1="516.958" x2="143.2" y2="516.958" stroke="#000" stroke-width="1.5"/>
<rect x="135.4" y="522.8" width="9.6" height="23.5" fill="#fff" stroke="#000" stroke-width="1.4"/>
<text x="126.8" y="560.5" font-size="10.2" text-anchor="middle" fill="#111">1:8</text>
<line x1="128" y1="491.4" x2="140.5" y2="491.4" stroke="#000" stroke-width="1.2"/>
<text x="134.55" y="488.0" font-size="9.8" text-anchor="middle" fill="#111">ns</text>
<line x1="167.0" y1="429.79499999999996" x2="167.0" y2="453.09599999999995" stroke="#000" stroke-width="1.5"/>
<line x1="164.0" y1="429.79499999999996" x2="170.0" y2="429.79499999999996" stroke="#000" stroke-width="1.5"/>
<rect x="161.5" y="453.1" width="11" height="93.2" fill="#000"/>
<line x1="178.85" y1="475.53399999999993" x2="178.85" y2="504.013" stroke="#000" stroke-width="1.5"/>
<line x1="175.85" y1="475.53399999999993" x2="181.85" y2="475.53399999999993" stroke="#000" stroke-width="1.5"/>
<rect x="174.0" y="504.7" width="9.6" height="41.6" fill="#8c8c8c" stroke="#000" stroke-width="1.4"/>
<line x1="190.7" y1="463.45199999999994" x2="190.7" y2="491.9309999999999" stroke="#000" stroke-width="1.5"/>
<line x1="187.7" y1="463.45199999999994" x2="193.7" y2="463.45199999999994" stroke="#000" stroke-width="1.5"/>
<rect x="185.9" y="492.6" width="9.6" height="53.7" fill="#fff" stroke="#000" stroke-width="1.4"/>
<text x="177.3" y="560.5" font-size="10.2" text-anchor="middle" fill="#111">1:4</text>
<line x1="178" y1="455.7" x2="191.5" y2="455.7" stroke="#000" stroke-width="1.2"/>
<text x="185.05" y="452.3" font-size="9.8" text-anchor="middle" fill="#111">ns</text>
<line x1="271.9" y1="416.2" x2="271.9" y2="547.0999999999999" stroke="#000" stroke-width="1.6"/>
<line x1="271.09999999999997" y1="546.3" x2="423.7" y2="546.3" stroke="#000" stroke-width="1.6"/>
<text x="268.7" y="546.5" font-size="9.2" text-anchor="end" fill="#111">0</text>
<line x1="267.4" y1="529.04" x2="271.9" y2="529.04" stroke="#000" stroke-width="1.3"/>
<text x="266.9" y="531.54" font-size="9.1" text-anchor="end" fill="#111">10</text>
<line x1="267.4" y1="511.78" x2="271.9" y2="511.78" stroke="#000" stroke-width="1.3"/>
<text x="266.9" y="514.28" font-size="9.1" text-anchor="end" fill="#111">20</text>
<line x1="267.4" y1="494.52" x2="271.9" y2="494.52" stroke="#000" stroke-width="1.3"/>
<text x="266.9" y="497.02" font-size="9.1" text-anchor="end" fill="#111">30</text>
<line x1="267.4" y1="477.26" x2="271.9" y2="477.26" stroke="#000" stroke-width="1.3"/>
<text x="266.9" y="479.76" font-size="9.1" text-anchor="end" fill="#111">40</text>
<line x1="267.4" y1="459.99999999999994" x2="271.9" y2="459.99999999999994" stroke="#000" stroke-width="1.3"/>
<text x="266.9" y="462.49999999999994" font-size="9.1" text-anchor="end" fill="#111">50</text>
<line x1="267.4" y1="442.73999999999995" x2="271.9" y2="442.73999999999995" stroke="#000" stroke-width="1.3"/>
<text x="266.9" y="445.23999999999995" font-size="9.1" text-anchor="end" fill="#111">60</text>
<line x1="267.4" y1="425.47999999999996" x2="271.9" y2="425.47999999999996" stroke="#000" stroke-width="1.3"/>
<text x="266.9" y="427.97999999999996" font-size="9.1" text-anchor="end" fill="#111">70</text>
<text x="247.59999999999997" y="480.2" font-size="10.8" text-anchor="middle" transform="rotate(-90 247.59999999999997 480.2)" fill="#111">Suppression (%)</text>
<text x="345.6" y="408.2" font-size="11" text-anchor="middle" fill="#111">CD8</text>
<line x1="285.7" y1="516.0949999999999" x2="285.7" y2="529.04" stroke="#000" stroke-width="1.5"/>
<line x1="282.7" y1="516.0949999999999" x2="288.7" y2="516.0949999999999" stroke="#000" stroke-width="1.5"/>
<rect x="280.2" y="529.0" width="11" height="17.3" fill="#000"/>
<line x1="309.4" y1="544.7466" x2="309.4" y2="545.2643999999999" stroke="#000" stroke-width="1.5"/>
<line x1="306.4" y1="544.7466" x2="312.4" y2="544.7466" stroke="#000" stroke-width="1.5"/>
<rect x="304.6" y="546.0" width="9.6" height="0.3" fill="#fff" stroke="#000" stroke-width="1.4"/>
<text x="296.0" y="560.5" font-size="10.2" text-anchor="middle" fill="#111">+eff</text>
<line x1="336.2" y1="446.19199999999995" x2="336.2" y2="473.80799999999994" stroke="#000" stroke-width="1.5"/>
<line x1="333.2" y1="446.19199999999995" x2="339.2" y2="446.19199999999995" stroke="#000" stroke-width="1.5"/>
<rect x="330.7" y="473.8" width="11" height="72.5" fill="#000"/>
<line x1="348.05" y1="527.314" x2="348.05" y2="535.5988" stroke="#000" stroke-width="1.5"/>
<line x1="345.05" y1="527.314" x2="351.05" y2="527.314" stroke="#000" stroke-width="1.5"/>
<rect x="343.2" y="536.3" width="9.6" height="10.0" fill="#8c8c8c" stroke="#000" stroke-width="1.4"/>
<line x1="359.9" y1="537.67" x2="359.9" y2="539.7411999999999" stroke="#000" stroke-width="1.5"/>
<line x1="356.9" y1="537.67" x2="362.9" y2="537.67" stroke="#000" stroke-width="1.5"/>
<rect x="355.1" y="540.4" width="9.6" height="5.9" fill="#fff" stroke="#000" stroke-width="1.4"/>
<text x="346.5" y="560.5" font-size="10.2" text-anchor="middle" fill="#111">1:8</text>
<line x1="348" y1="519.4" x2="360.6" y2="519.4" stroke="#000" stroke-width="1.2"/>
<text x="354.6" y="516.0" font-size="9.8" text-anchor="middle" fill="#111">ns</text>
<line x1="386.7" y1="418.57599999999996" x2="386.7" y2="447.5727999999999" stroke="#000" stroke-width="1.5"/>
<line x1="383.7" y1="418.57599999999996" x2="389.7" y2="418.57599999999996" stroke="#000" stroke-width="1.5"/>
<rect x="381.2" y="447.6" width="11" height="98.7" fill="#000"/>
<line x1="398.55" y1="505.739" x2="398.55" y2="522.8263999999999" stroke="#000" stroke-width="1.5"/>
<line x1="395.55" y1="505.739" x2="401.55" y2="505.739" stroke="#000" stroke-width="1.5"/>
<rect x="393.8" y="523.5" width="9.6" height="22.8" fill="#8c8c8c" stroke="#000" stroke-width="1.4"/>
<line x1="410.4" y1="499.698" x2="410.4" y2="517.3032" stroke="#000" stroke-width="1.5"/>
<line x1="407.4" y1="499.698" x2="413.4" y2="499.698" stroke="#000" stroke-width="1.5"/>
<rect x="405.6" y="518.0" width="9.6" height="28.3" fill="#fff" stroke="#000" stroke-width="1.4"/>
<text x="397.0" y="560.5" font-size="10.2" text-anchor="middle" fill="#111">1:4</text>
<line x1="398.9" y1="491.4" x2="411.7" y2="491.4" stroke="#000" stroke-width="1.2"/>
<text x="405.59999999999997" y="488.0" font-size="9.8" text-anchor="middle" fill="#111">ns</text>
<rect x="64" y="583" width="11.5" height="10.5" fill="#000"/>
<text x="83.6" y="593.2" font-size="11.9" text-anchor="start" fill="#111">PB-APC + PB-T</text>
<rect x="188.3" y="583.3" width="10.6" height="9.8" fill="#8c8c8c" stroke="#000" stroke-width="1.3"/>
<text x="205.4" y="593.2" font-size="11.9" text-anchor="start" fill="#111">SF-APC + SF-T</text>
<rect x="310.8" y="583.5" width="11" height="9.5" fill="#fff" stroke="#000" stroke-width="1.3"/>
<text x="329.2" y="593.2" font-size="11.9" text-anchor="start" fill="#111">PB-APC + SF-T</text>
</svg>
</body></html>
